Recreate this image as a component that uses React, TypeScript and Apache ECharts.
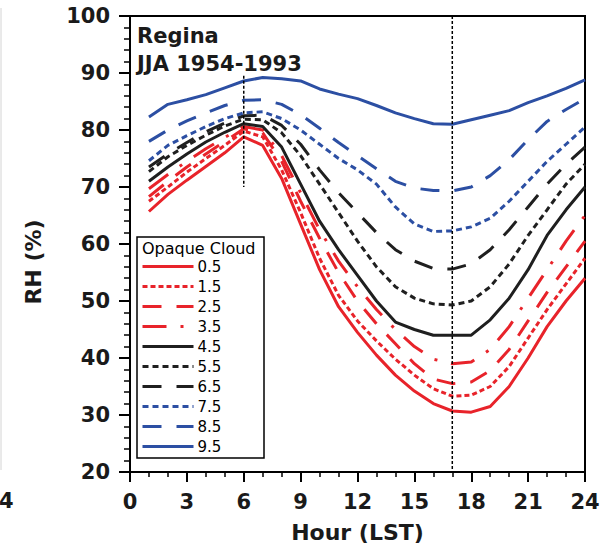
import React, { useEffect, useRef } from "react";
import * as echarts from "echarts";

const hours = [1, 2, 3, 4, 5, 6, 7, 8, 9, 10, 11, 12, 13, 14, 15, 16, 17, 18, 19, 20, 21, 22, 23, 24];
const cloudLevels = ["0.5", "1.5", "2.5", "3.5", "4.5", "5.5", "6.5", "7.5", "8.5", "9.5"];

const rh05 = [65.7, 68.7, 71.2, 73.6, 76.0, 78.8, 77.3, 71.5, 63.5, 55.5, 49.0, 44.5, 40.5, 37.0, 34.2, 32.0, 30.7, 30.5, 31.5, 35.0, 40.0, 45.5, 50.0, 54.0];
const rh15 = [67.5, 70.0, 72.6, 75.0, 77.3, 79.8, 78.8, 73.0, 65.5, 57.5, 51.0, 46.5, 43.0, 39.8, 37.0, 34.6, 33.3, 33.5, 35.0, 38.5, 43.5, 48.5, 53.0, 57.5];
const rh25 = [68.3, 71.0, 73.5, 75.8, 78.0, 80.2, 79.5, 74.5, 67.5, 61.0, 55.0, 50.0, 46.0, 42.5, 39.0, 36.3, 35.5, 35.8, 37.8, 41.5, 46.5, 51.5, 56.0, 60.5];
const rh35 = [69.7, 72.2, 74.5, 76.7, 78.7, 80.6, 80.0, 75.5, 69.0, 62.5, 57.0, 52.5, 48.5, 45.0, 42.0, 39.8, 39.0, 39.3, 41.5, 45.5, 50.5, 55.5, 60.5, 65.0];
const rh45 = [71.0, 73.5, 75.8, 77.9, 79.6, 81.1, 80.6, 77.0, 70.5, 64.0, 59.0, 54.5, 50.0, 46.3, 45.0, 44.0, 44.0, 44.0, 46.7, 50.5, 55.5, 61.5, 66.0, 70.0];
const rh55 = [72.7, 75.3, 77.3, 79.1, 80.7, 81.9, 81.8, 79.5, 75.5, 70.5, 65.5, 60.5, 56.0, 52.5, 50.5, 49.5, 49.3, 50.0, 52.5, 56.5, 61.5, 66.0, 70.5, 74.0];
const rh65 = [73.5, 75.8, 77.8, 79.7, 81.2, 82.5, 82.6, 80.8, 77.5, 73.0, 69.0, 65.5, 62.0, 59.0, 57.0, 55.7, 55.6, 56.5, 59.0, 62.5, 66.5, 70.5, 74.0, 77.0];
const rh75 = [74.6, 77.3, 79.0, 80.6, 82.0, 83.0, 83.2, 82.0, 80.0, 77.5, 75.0, 73.0, 70.5, 66.5, 63.5, 62.2, 62.3, 63.0, 64.5, 67.5, 71.0, 74.5, 77.5, 80.5];
const rh85 = [78.0, 80.0, 81.6, 83.0, 84.3, 85.2, 85.3, 84.5, 82.7, 80.3, 77.8, 75.5, 73.2, 71.0, 69.8, 69.4, 69.3, 70.0, 72.0, 74.8, 78.3, 81.5, 83.6, 85.5];
const rh95 = [82.3, 84.5, 85.3, 86.2, 87.4, 88.6, 89.2, 89.0, 88.6, 87.2, 86.3, 85.5, 84.3, 83.0, 82.0, 81.1, 81.0, 81.8, 82.6, 83.4, 84.8, 86.0, 87.3, 88.8];

const refMorningHour = 6;
const refMorningRange = [89.5, 70];
const refAfternoonHour = 17;
const refAfternoonRange = [100, 20];

const RED = "#e8232a";
const BLACK = "#1f1f1f";
const BLUE = "#2c4fa3";
const FONT = "DejaVu Sans";

export default function App() {
  const ref = useRef<HTMLDivElement>(null);
  useEffect(() => {
    if (!ref.current) return;
    const chart = echarts.init(ref.current, undefined, { renderer: "svg" });
    const allValues = [rh05, rh15, rh25, rh35, rh45, rh55, rh65, rh75, rh85, rh95];
    const styles: any[] = [
      { color: RED, type: "solid" },
      { color: RED, type: [5, 3] },
      { color: RED, type: [19, 15] },
      { color: RED, type: [24, 14, 3, 14] },
      { color: BLACK, type: "solid" },
      { color: BLACK, type: [6, 4] },
      { color: BLACK, type: [19, 15] },
      { color: BLUE, type: [6, 4] },
      { color: BLUE, type: [19, 15] },
      { color: BLUE, type: "solid" },
    ];
    const series: any[] = allValues.map((vals, i) => ({
      name: cloudLevels[i],
      type: "line",
      symbol: "none",
      data: hours.map((h, j) => [h, vals[j]]),
      lineStyle: { color: styles[i].color, width: 3, type: styles[i].type },
      itemStyle: { color: styles[i].color },
      z: 3,
    }));
    series.push({
      name: "ref6",
      type: "line",
      symbol: "none",
      data: refMorningRange.map((v) => [refMorningHour, v]),
      lineStyle: { color: "#000", width: 1.5, type: [3, 2] },
      z: 4,
    });
    series.push({
      name: "ref17",
      type: "line",
      symbol: "none",
      data: refAfternoonRange.map((v) => [refAfternoonHour, v]),
      lineStyle: { color: "#000", width: 1.5, type: [3, 2] },
      z: 4,
    });

    const axisLabelStyle = {
      fontFamily: FONT,
      fontWeight: "bold" as const,
      fontSize: 21,
      color: "#1a1a1a",
    };

    chart.setOption({
      animation: false,
      grid: {
        left: 130,
        right: 27,
        top: 16,
        bottom: 83,
        show: true,
        borderColor: "#000",
        borderWidth: 2,
      },
      xAxis: {
        type: "value",
        min: 0,
        max: 24,
        interval: 3,
        name: "Hour (LST)",
        nameLocation: "middle",
        nameGap: 49,
        nameTextStyle: { fontFamily: FONT, fontWeight: "bold", fontSize: 22, color: "#1a1a1a" },
        axisLine: { lineStyle: { color: "#000", width: 2 } },
        axisTick: { show: true, length: 10, lineStyle: { color: "#000", width: 2 } },
        minorTick: { show: true, splitNumber: 3, length: 5, lineStyle: { color: "#000", width: 1.5 } },
        splitLine: { show: false },
        axisLabel: { ...axisLabelStyle, margin: 19 },
      },
      yAxis: {
        type: "value",
        min: 20,
        max: 100,
        interval: 10,
        axisLine: { show: true, lineStyle: { color: "#000", width: 2 } },
        axisTick: { show: true, length: 11, lineStyle: { color: "#000", width: 2 } },
        minorTick: { show: true, splitNumber: 5, length: 6, lineStyle: { color: "#000", width: 1.5 } },
        splitLine: { show: false },
        axisLabel: { ...axisLabelStyle, margin: 20 },
      },
      legend: {
        data: cloudLevels,
        orient: "vertical",
        left: 141,
        top: 259,
        itemWidth: 51,
        itemHeight: 14,
        itemGap: 5,
        padding: 0,
        itemStyle: { opacity: 0 },
        lineStyle: { width: 3 },
        textStyle: { fontFamily: FONT, fontSize: 15, color: "#000", padding: [0, 0, 0, -1] },
        z: 10,
      },
      graphic: [
        {
          type: "rect",
          shape: { x: 137, y: 237, width: 127, height: 221 },
          style: { fill: "#fff", stroke: "#000", lineWidth: 1.5 },
          z: 5,
        },
        {
          type: "text",
          x: 142,
          y: 248,
          style: {
            text: "Opaque Cloud",
            fontFamily: FONT,
            fontSize: 16,
            fill: "#000",
            textAlign: "left",
            textVerticalAlign: "middle",
          },
          z: 11,
        },
        {
          type: "text",
          x: 137,
          y: 36,
          style: {
            text: "Regina",
            fontFamily: FONT,
            fontWeight: "bold",
            fontSize: 21,
            fill: "#1a1a1a",
            textAlign: "left",
            textVerticalAlign: "middle",
          },
          z: 11,
        },
        {
          type: "text",
          x: 137,
          y: 64,
          style: {
            text: "JJA 1954-1993",
            fontFamily: FONT,
            fontWeight: "bold",
            fontSize: 21,
            fill: "#1a1a1a",
            textAlign: "left",
            textVerticalAlign: "middle",
          },
          z: 11,
        },
        {
          type: "text",
          x: 33,
          y: 262,
          rotation: Math.PI / 2,
          style: {
            text: "RH (%)",
            fontFamily: FONT,
            fontWeight: "bold",
            fontSize: 22,
            fill: "#1a1a1a",
            textAlign: "center",
            textVerticalAlign: "middle",
          },
          z: 11,
        },
        {
          type: "text",
          x: -1,
          y: 501,
          style: {
            text: "4",
            fontFamily: FONT,
            fontWeight: "bold",
            fontSize: 21,
            fill: "#1a1a1a",
            textAlign: "left",
            textVerticalAlign: "middle",
          },
        },
        {
          type: "line",
          shape: { x1: 1, y1: 8, x2: 1, y2: 470 },
          style: { stroke: "#d4d4d4", lineWidth: 1 },
        },
      ],
      series,
    });
    return () => chart.dispose();
  }, []);
  return (
    <div
      ref={ref}
      style={{ position: "fixed", left: 0, top: 0, width: 612, height: 555, background: "#fff" }}
    />
  );
}
